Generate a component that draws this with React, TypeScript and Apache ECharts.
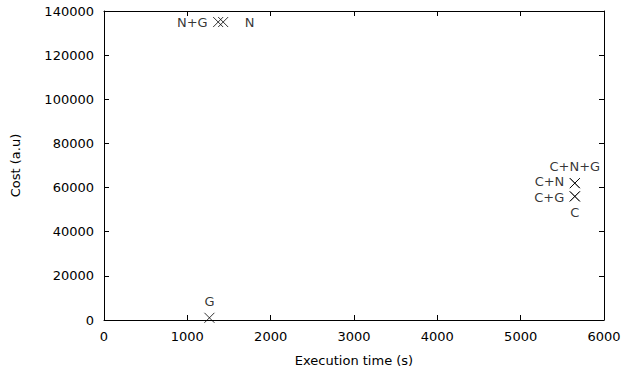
import React, { useEffect, useRef } from "react";
import * as echarts from "echarts";

const xTicks = [0, 6000, 1000];
const yTicks = [0, 140000, 20000];

const names = ["G", "N+G", "N", "C+N+G", "C+N", "C+G", "C"];
const times = [1265, 1370, 1430, 5650, 5650, 5650, 5650];
const costs = [1000, 135000, 135000, 62000, 62000, 56000, 56000];
const labelPos = ["top", "left", "right", "top", "left", "left", "bottom"];

const FONT = "DejaVu Sans";
const FS = 13;

export default function App() {
  const ref = useRef<HTMLDivElement>(null);
  useEffect(() => {
    const chart = echarts.init(ref.current!, null, { renderer: "svg" });
    const tickStyle = { show: true, inside: true, length: 5, lineStyle: { color: "#000" } };
    const axLine = { show: true, onZero: false, lineStyle: { color: "#000", width: 1 } };
    const lblDist: Record<string, number> = { top: 3, left: 3, right: 14, bottom: 3 };
    const lblOffset: Record<string, number[]> = { "C+N": [0, -1.5], "C+G": [0, 1.5] };
    const fmt = (v: number) => String(v);
    chart.setOption({
      animation: false,
      textStyle: { fontFamily: FONT },
      grid: { left: 104, right: 22, top: 11, bottom: 53, show: false },
      xAxis: [
        {
          type: "value",
          min: xTicks[0],
          max: xTicks[1],
          interval: xTicks[2],
          name: "Execution time (s)",
          nameLocation: "middle",
          nameGap: 34,
          nameTextStyle: { color: "#000", fontSize: FS, fontFamily: FONT },
          axisLine: axLine,
          axisTick: tickStyle,
          splitLine: { show: false },
          axisLabel: { color: "#000", fontSize: FS, fontFamily: FONT, margin: 10, formatter: fmt },
        },
        {
          type: "value",
          position: "top",
          min: xTicks[0],
          max: xTicks[1],
          interval: xTicks[2],
          axisLine: axLine,
          axisTick: tickStyle,
          splitLine: { show: false },
          axisLabel: { show: false },
        },
      ],
      yAxis: [
        {
          type: "value",
          min: yTicks[0],
          max: yTicks[1],
          interval: yTicks[2],
          name: "Cost (a.u)",
          nameLocation: "middle",
          nameGap: 82,
          nameRotate: 90,
          nameTextStyle: { color: "#000", fontSize: FS, fontFamily: FONT },
          axisLine: axLine,
          axisTick: tickStyle,
          splitLine: { show: false },
          axisLabel: { color: "#000", fontSize: FS, fontFamily: FONT, margin: 10, formatter: fmt },
        },
        {
          type: "value",
          position: "right",
          min: yTicks[0],
          max: yTicks[1],
          interval: yTicks[2],
          axisLine: axLine,
          axisTick: tickStyle,
          splitLine: { show: false },
          axisLabel: { show: false },
        },
      ],
      series: [
        {
          type: "scatter",
          symbol: "path://M0,0L10,10M10,0L0,10",
          symbolSize: 10,
          itemStyle: { color: "none", borderColor: "#000", borderWidth: 1 },
          data: names.map((n, i) => ({
            value: [times[i], costs[i]],
            name: n,
            label: {
              show: true,
              formatter: n,
              position: labelPos[i],
              distance: lblDist[labelPos[i]],
              offset: lblOffset[n] || [0, 0],
              color: "#000",
              fontSize: FS,
              lineHeight: 12,
              fontFamily: FONT,
            },
          })),
        },
      ],
    });
    return () => chart.dispose();
  }, []);
  return <div ref={ref} style={{ width: 626, height: 373, position: "absolute", left: 0, top: 0 }} />;
}
